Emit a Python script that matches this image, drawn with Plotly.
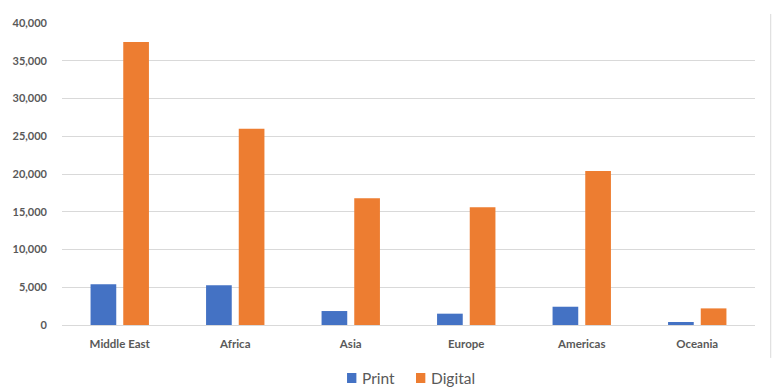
import plotly.graph_objects as go

categories = ["Middle East", "Africa", "Asia", "Europe", "Americas", "Oceania"]
print_values = [5400, 5250, 1850, 1500, 2420, 400]
digital_values = [37500, 26000, 16800, 15600, 20400, 2200]
y_ticks = [0, 5000, 10000, 15000, 20000, 25000, 30000, 35000, 40000]
series_names = ["Print", "Digital"]
series_colors = ["#4472C4", "#ED7D31"]

fig = go.Figure()
for name, vals, col in zip(series_names, [print_values, digital_values], series_colors):
    fig.add_trace(go.Bar(name=name, x=categories, y=vals,
                         marker=dict(color=col, line=dict(width=0))))

# manual legend (tight spacing like the reference)
legend_sq_x = [0.4113, 0.5108]
shapes = [dict(type="line", xref="paper", yref="paper", x0=1.0227, x1=1.0227,
               y0=-0.109, y1=1.03, line=dict(color="#D9D9D9", width=1))]
annotations = []
for sx, name, col in zip(legend_sq_x, series_names, series_colors):
    shapes.append(dict(type="rect", xref="paper", yref="paper", x0=sx, x1=sx + 0.0135,
                       y0=-0.1920, y1=-0.1589, fillcolor=col, line=dict(width=0)))
    annotations.append(dict(xref="paper", yref="paper", x=sx + 0.019, y=-0.1754,
                            xanchor="left", yanchor="middle", showarrow=False, text=name,
                            font=dict(size=15.5, color="#595959", family="Lato, sans-serif")))

fig.update_layout(
    width=783, height=387,
    margin=dict(l=62, r=28, t=23, b=62, autoexpand=False),
    paper_bgcolor="white", plot_bgcolor="white",
    barmode="group", bargap=0.434, bargroupgap=0.214,
    font=dict(family="Lato, Liberation Sans, sans-serif", color="#595959"),
    showlegend=False,
    xaxis=dict(showgrid=False, showline=False, ticks="", ticklabelstandoff=10,
               tickfont=dict(size=11.5, color="#595959", family="Lato, sans-serif", weight="bold")),
    yaxis=dict(range=[0, 40000], tickvals=y_ticks, tickformat=",", showgrid=True,
               gridcolor="#D9D9D9", gridwidth=1, zeroline=True, zerolinecolor="#D9D9D9",
               zerolinewidth=1, showline=False, ticks="", ticklabelstandoff=14,
               tickfont=dict(size=11, color="#595959", family="Lato, sans-serif", weight="bold")),
    shapes=shapes,
    annotations=annotations,
)

fig.write_html("out.html")
